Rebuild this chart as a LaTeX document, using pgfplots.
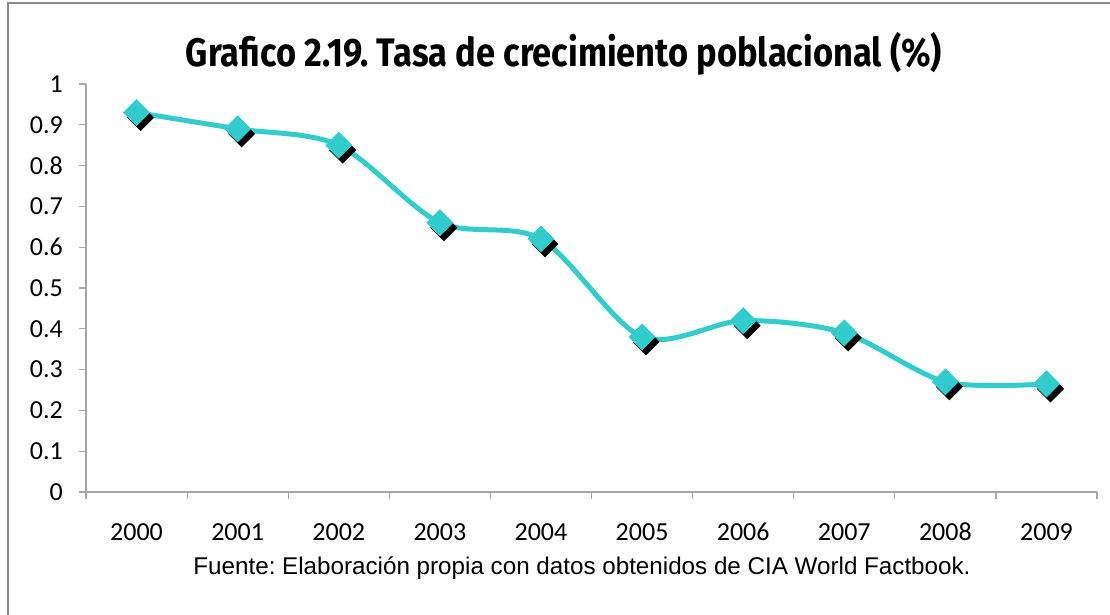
\documentclass[border=0pt]{standalone}
\usepackage{pgfplots}
\usepackage{pgfplotstable}
\pgfplotsset{compat=1.18}
\usepackage{fontspec}
\setmainfont{Liberation Sans}
\newfontfamily\calibri{Carlito}
\newfontfamily\titlefont{Fira Sans}
\definecolor{lineC}{HTML}{33CCCC}
\definecolor{axisC}{HTML}{A6A6A6}
\definecolor{frameC}{HTML}{8C8C8C}
\pgfplotstableread{
x y
0 0.93
1 0.89
2 0.85
3 0.66
4 0.62
5 0.38
6 0.42
7 0.39
8 0.27
9 0.265
}\datatab
\begin{document}
\frenchspacing
\begin{tikzpicture}[x=1pt,y=1pt]
\useasboundingbox (0,0) rectangle (1110,615);
\draw[frameC, line width=2pt] (8,-20) -- (8,612) -- (1130,612);
\node[inner sep=0pt] at (564,561.5) {\resizebox*{756pt}{43pt}{\titlefont\bfseries Grafico 2.19. Tasa de crecimiento poblacional (\%)}};
\node[inner sep=0pt, font=\fontsize{24.2}{28}\selectfont] at (582,47) {Fuente: Elaboración propia con datos obtenidos de CIA World Factbook.};
\begin{axis}[
  at={(86pt,123pt)}, anchor=south west,
  scale only axis, width=1011pt, height=408pt,
  xmin=-0.5, xmax=9.5, ymin=0, ymax=1,
  axis x line*=bottom, axis y line*=left,
  axis line style={axisC, line width=1.2pt},
  clip=false,
  tick align=outside,
  major tick length=7pt, minor tick length=7pt,
  tick style={axisC, line width=1.2pt},
  xtick={0,1,2,3,4,5,6,7,8,9},
  xticklabels={2000,2001,2002,2003,2004,2005,2006,2007,2008,2009},
  minor xtick={-0.5,0.5,1.5,2.5,3.5,4.5,5.5,6.5,7.5,8.5,9.5},
  major x tick style={draw=none},
  ytick={0,0.1,0.2,0.3,0.4,0.5,0.6,0.7,0.8,0.9,1},
  yticklabels={0,0.1,0.2,0.3,0.4,0.5,0.6,0.7,0.8,0.9,1},
  ticklabel style={font=\calibri\fontsize{26}{30}\selectfont, inner sep=0pt},
  xticklabel style={anchor=north, text height=17pt, text depth=0pt, yshift=-24.5pt},
  yticklabel style={anchor=east, xshift=-16pt},
]
\addplot[lineC, line width=5pt, smooth, tension=0.5] table[x=x,y=y] {\datatab};
\addplot[only marks, mark=square*, mark size=9.3pt, mark options={black, fill=black, xshift=4pt, yshift=-5pt, rotate=45}] table[x=x,y=y] {\datatab};
\addplot[only marks, mark=square*, mark size=9.3pt, mark options={lineC, fill=lineC, rotate=45}] table[x=x,y=y] {\datatab};
\end{axis}
\end{tikzpicture}
\end{document}
